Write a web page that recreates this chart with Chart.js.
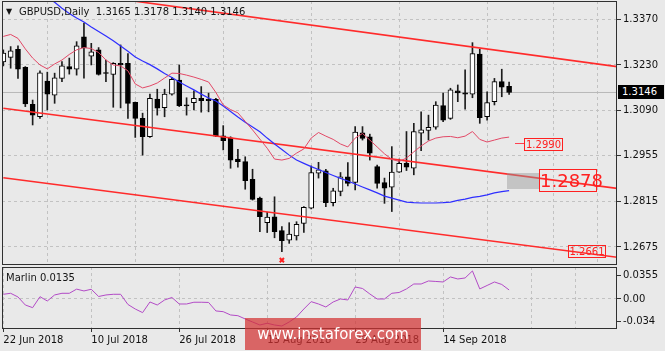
<!DOCTYPE html>
<html>
<head>
<meta charset="utf-8">
<script src="https://cdn.jsdelivr.net/npm/chart.js@4"></script>
<style>
  body { margin: 0; width: 665px; height: 351px; overflow: hidden; position: relative; background: #e9e9e9; font-family: "DejaVu Sans", sans-serif; }
  canvas { position: absolute; left: 0; }
  #main { top: 0; }
  #ind { top: 266px; }
  .t { position: absolute; font-size: 10px; line-height: 12px; color: #141414; white-space: pre; }
  .lbl { position: absolute; border: 1px solid #ff2020; color: #ff2020; box-sizing: border-box; text-align: center; white-space: pre; }
</style>
</head>
<body>
<canvas id="main" width="665" height="266"></canvas>
<canvas id="ind" width="665" height="85"></canvas>

<div class="t" style="left:6px;top:6px;font-size:8px">▼</div>
<div class="t" style="left:19px;top:6px">GBPUSD,Daily  1.3165 1.3178 1.3140 1.3146</div>
<div class="t" style="left:6px;top:272px">Marlin 0.0135</div>

<div class="t" style="left:618px;top:85px;width:46px;height:14px;line-height:14px;background:#000;color:#fff;padding-left:4px;box-sizing:border-box">1.3146</div>

<div style="position:absolute;left:515px;top:143px;width:9px;height:1px;background:#ff4050"></div>
<div class="lbl" style="left:524px;top:138px;width:39px;height:13px;font-size:10px;line-height:11px">1.2990</div>
<div style="position:absolute;left:507px;top:173px;width:32px;height:16px;background:rgba(150,150,150,0.45)"></div>
<div class="lbl" style="left:539px;top:169px;width:58px;height:23px;font-size:18px;line-height:21px">1.2878</div>
<div class="lbl" style="left:568px;top:245px;width:38px;height:13px;font-size:10px;line-height:11px">1.2661</div>

<div style="position:absolute;left:245px;top:318px;width:176px;height:32px;background:rgba(210,50,50,0.72);color:#fff;font-size:15px;line-height:32px;text-align:center">www.instaforex.com</div>

<script>
// price scale and grid
const priceTicks = [1.2675, 1.2815, 1.2955, 1.3090, 1.3230, 1.3370];
const marlinTicks = [-0.034, 0, 0.0355];
const gridIdx = [0, 12, 24, 36, 48, 60, 72, 78];
const dateIdx = [0, 12, 24, 36, 48, 60];
const dates = ['22 Jun 2018', '10 Jul 2018', '26 Jul 2018', '13 Aug 2018', '29 Aug 2018', '14 Sep 2018'];

// daily candles, 22 Jun .. 27 Sep 2018
const open = [1.3239,1.3253,1.3278,1.3223,1.3110,1.3072,1.3181,1.3138,1.3189,1.3225,
  1.3217,1.3316,1.3257,1.3276,1.3207,1.3201,1.3235,1.3235,1.3116,1.3067,
  1.3011,1.3126,1.3100,1.3141,1.3184,1.3108,1.3115,1.3128,1.3126,1.3125,
  1.3014,1.3008,1.2943,1.2935,1.2881,1.2824,1.2749,1.2767,1.2725,1.2696,
  1.2709,1.2747,1.2793,1.2900,1.2907,1.2810,1.2844,1.2889,1.2872,1.3023,
  1.3011,1.2920,1.2871,1.2857,1.2903,1.2930,1.2915,1.3022,1.3030,1.3040,
  1.3106,1.3067,1.3151,1.3145,1.3141,1.3263,1.3072,1.3118,1.3179,1.3165];
const high = [1.3276,1.3286,1.3288,1.3225,1.3123,1.3212,1.3208,1.3205,1.3240,1.3251,
  1.3301,1.3358,1.3296,1.3283,1.3245,1.3237,1.3291,1.3265,1.3117,1.3083,
  1.3141,1.3156,1.3156,1.3192,1.3230,1.3130,1.3151,1.3164,1.3144,1.3128,
  1.3045,1.3011,1.2973,1.2950,1.2912,1.2827,1.2781,1.2828,1.2737,1.2749,
  1.2752,1.2798,1.2922,1.2933,1.2912,1.2854,1.2902,1.2932,1.3042,1.3042,
  1.3019,1.2925,1.2885,1.2981,1.2943,1.3027,1.3052,1.3087,1.3077,1.3118,
  1.3144,1.3159,1.3169,1.3215,1.3298,1.3278,1.3148,1.3189,1.3217,1.3178];
const low = [1.3227,1.3220,1.3189,1.3103,1.3047,1.3067,1.3093,1.3113,1.3179,1.3202,
  1.3199,1.3190,1.3230,1.3199,1.3179,1.3101,1.3099,1.3067,1.3009,1.2955,
  1.3009,1.3077,1.3072,1.3138,1.3103,1.3077,1.3093,1.3086,1.3087,1.3011,
  1.2971,1.2915,1.2918,1.2851,1.2818,1.2722,1.2719,1.2703,1.2661,1.2686,
  1.2696,1.2719,1.2791,1.2885,1.2798,1.2800,1.2831,1.2861,1.2849,1.3001,
  1.2940,1.2854,1.2808,1.2783,1.2902,1.2908,1.2895,1.2969,1.3001,1.3034,
  1.3057,1.3064,1.3118,1.3095,1.3130,1.3052,1.3062,1.3108,1.3133,1.3140];
const close = [1.3266,1.3273,1.3217,1.3111,1.3077,1.3206,1.3141,1.3191,1.3227,1.3217,
  1.3288,1.3282,1.3270,1.3201,1.3204,1.3235,1.3230,1.3113,1.3067,1.3011,
  1.3128,1.3098,1.3141,1.3186,1.3106,1.3105,1.3128,1.3121,1.3121,1.3013,
  1.2999,1.2940,1.2935,1.2877,1.2820,1.2767,1.2766,1.2722,1.2694,1.2714,
  1.2744,1.2796,1.2902,1.2910,1.2810,1.2846,1.2889,1.2869,1.3025,1.3006,
  1.2961,1.2869,1.2854,1.2903,1.2930,1.2918,1.3027,1.3032,1.3040,1.3108,
  1.3062,1.3154,1.3145,1.3141,1.3265,1.3069,1.3115,1.3179,1.3162,1.3146];

// moving averages
const fastMa = [1.3317,1.3323,1.3311,1.3279,1.3251,1.3230,1.3218,1.3233,1.3245,1.3262,
  1.3276,1.3283,1.3280,1.3268,1.3245,1.3230,1.3227,1.3212,1.3172,1.3160,
  1.3166,1.3175,1.3190,1.3205,1.3204,1.3199,1.3193,1.3186,1.3178,1.3146,
  1.3108,1.3094,1.3084,1.3058,1.3032,1.3004,1.2976,1.2943,1.2940,1.2945,
  1.2961,1.2974,1.3007,1.3024,1.3013,1.3003,1.2989,1.2980,1.3007,1.3021,
  1.3001,1.2980,1.2959,1.2942,1.2936,1.2946,1.2965,1.2983,1.2998,1.3007,
  1.3011,1.3012,1.3008,1.3013,1.3027,1.3003,1.2995,1.3001,1.3007,1.3010];
const slowMa = [null,null,null,null,null,null,1.3437,1.3421,1.3403,1.3387,
  1.3373,1.3361,1.3346,1.3332,1.3318,1.3304,1.3288,1.3272,1.3254,1.3242,
  1.3231,1.3218,1.3204,1.3192,1.3178,1.3166,1.3154,1.3141,1.3129,1.3120,
  1.3105,1.3088,1.3071,1.3055,1.3041,1.3026,1.3007,1.2989,1.2972,1.2955,
  1.2940,1.2930,1.2920,1.2911,1.2902,1.2893,1.2884,1.2876,1.2867,1.2858,
  1.2849,1.2840,1.2830,1.2824,1.2818,1.2812,1.2810,1.2809,1.2809,1.2809,
  1.2810,1.2812,1.2817,1.2821,1.2826,1.2829,1.2834,1.2840,1.2844,1.2847];

// channel lines (values at bar 0 and bar 84)
const channelIdx = [0, 84];
const upperChannel = [1.3479, 1.3224];
const midChannel = [1.3098, 1.2853];
const lowerChannel = [1.2886, 1.2643];
const bidIdx = [-1, 85];
const bidPrice = [1.3146, 1.3146];
const markIdx = [38];
const markPrice = [1.2635];

const marlin = [0.0070,0.0085,0.0030,-0.0090,-0.0130,0.0034,-0.0030,0.0060,0.0085,0.0085,
  0.0147,0.0120,0.0145,0.0037,0.0060,0.0070,0.0070,-0.0082,-0.0150,-0.0204,
  -0.0045,-0.0090,-0.0015,0.0022,-0.0075,-0.0075,-0.0049,-0.0049,-0.0052,-0.0179,
  -0.0190,-0.0239,-0.0250,-0.0299,-0.0344,-0.0389,-0.0363,-0.0389,-0.0404,-0.0344,
  -0.0269,-0.0150,-0.0040,-0.0075,-0.0120,-0.0045,0.0000,-0.0015,0.0179,0.0157,
  0.0075,0.0000,0.0000,0.0085,0.0097,0.0150,0.0224,0.0224,0.0269,0.0262,
  0.0254,0.0329,0.0299,0.0314,0.0419,0.0150,0.0202,0.0254,0.0217,0.0135];

const xMin = -0.18, xMax = 83.72;

Chart.defaults.font.family = 'DejaVu Sans';
Chart.defaults.font.size = 10;
Chart.defaults.color = '#111';

const framePlugin = {
  id: 'frame',
  afterDraw(chart) {
    const { ctx, chartArea: a } = chart;
    ctx.save();
    ctx.strokeStyle = '#303030';
    ctx.lineWidth = 1;
    ctx.strokeRect(a.left + 0.5, a.top + 0.5, a.right - a.left - 1, a.bottom - a.top - 1);
    ctx.restore();
  }
};

// right axis: fixed width, no extra space for the end labels
const fitRight = s => { s.width = 48; s.paddingTop = 0; s.paddingBottom = 0; };

const idx = close.map((_, i) => i);
const pts = (xs, ys) => xs.map((x, i) => ({ x: x, y: ys[i] }));

const lineBase = { type: 'line', pointRadius: 0, tension: 0, fill: false };

new Chart(document.getElementById('main'), {
  type: 'bar',
  data: {
    datasets: [
      { ...lineBase, data: pts(bidIdx, bidPrice), borderColor: '#b8b8b8', borderWidth: 1, order: 6 },
      {
        type: 'bar', data: idx.map(i => ({ x: i, y: [low[i], high[i]] })),
        backgroundColor: '#1c1c1c', barThickness: 1, grouped: false, order: 5
      },
      {
        type: 'bar', data: idx.map(i => ({ x: i, y: [open[i], close[i]] })),
        backgroundColor: idx.map(i => close[i] >= open[i] ? '#ffffff' : '#000000'),
        borderColor: '#000000', borderWidth: 1, borderSkipped: false,
        barThickness: 5, minBarLength: 1, grouped: false, order: 4
      },
      { ...lineBase, data: pts(channelIdx, upperChannel), borderColor: '#ff2b2b', borderWidth: 1.6, order: 3 },
      { ...lineBase, data: pts(channelIdx, midChannel), borderColor: '#ff2b2b', borderWidth: 1.6, order: 3 },
      { ...lineBase, data: pts(channelIdx, lowerChannel), borderColor: '#ff2b2b', borderWidth: 1.6, order: 3 },
      { ...lineBase, data: pts(idx, slowMa), borderColor: '#2e2eff', borderWidth: 1.2, order: 2 },
      { ...lineBase, data: pts(idx, fastMa), borderColor: '#e24866', borderWidth: 1, order: 1 },
      {
        ...lineBase, data: pts(markIdx, markPrice), showLine: false,
        pointStyle: 'crossRot', pointRadius: 3, pointBorderWidth: 2, pointBorderColor: '#ff2020', order: 0
      }
    ]
  },
  options: {
    responsive: false, animation: false, devicePixelRatio: 1,
    layout: { padding: { left: 2, top: 1, right: 0, bottom: 0 }, autoPadding: false },
    plugins: { legend: { display: false }, tooltip: { enabled: false } },
    scales: {
      x: {
        type: 'linear', min: xMin, max: xMax, offset: false,
        afterBuildTicks: s => { s.ticks = gridIdx.map(v => ({ value: v })); },
        afterFit: s => { s.height = 1; s.paddingLeft = 0; s.paddingRight = 0; },
        ticks: { display: false },
        grid: { color: '#c2c2c2', drawTicks: false },
        border: { display: false, dash: [3, 3] }
      },
      y: {
        position: 'right', min: 1.2620, max: 1.3425,
        afterBuildTicks: s => { s.ticks = priceTicks.map(v => ({ value: v })); },
        afterFit: fitRight,
        ticks: { callback: v => v.toFixed(4), padding: 2, color: '#111' },
        grid: { color: '#c2c2c2', tickLength: 4, tickColor: '#333', tickBorderDash: [] },
        border: { display: false, dash: [3, 3] }
      }
    }
  },
  plugins: [framePlugin]
});

new Chart(document.getElementById('ind'), {
  type: 'line',
  data: {
    datasets: [
      { data: pts(idx, marlin), borderColor: '#b24ac6', borderWidth: 1, pointRadius: 0, tension: 0, fill: false }
    ]
  },
  options: {
    responsive: false, animation: false, devicePixelRatio: 1,
    layout: { padding: { left: 2, top: 1, right: 0, bottom: 0 }, autoPadding: false },
    plugins: { legend: { display: false }, tooltip: { enabled: false } },
    scales: {
      x: {
        type: 'linear', min: xMin, max: xMax,
        afterBuildTicks: s => { s.ticks = gridIdx.map(v => ({ value: v })); },
        afterFit: s => { s.height = 22; s.paddingLeft = 0; s.paddingRight = 0; },
        ticks: {
          autoSkip: false, maxRotation: 0, align: 'start', padding: 2, color: '#111',
          callback: v => { const k = dateIdx.indexOf(v); return k >= 0 ? dates[k] : ''; }
        },
        grid: {
          color: '#c2c2c2', tickLength: 3, tickBorderDash: [],
          tickColor: c => dateIdx.includes(c.tick && c.tick.value) ? '#333' : 'rgba(0,0,0,0)'
        },
        border: { display: false, dash: [3, 3] }
      },
      y: {
        position: 'right', min: -0.0449, max: 0.0478,
        afterBuildTicks: s => { s.ticks = marlinTicks.map(v => ({ value: v })); },
        afterFit: fitRight,
        ticks: { callback: v => v === 0 ? '0.00' : String(v), padding: 2, color: '#111' },
        grid: {
          color: c => c.tick && c.tick.value === 0 ? '#c2c2c2' : 'rgba(0,0,0,0)',
          tickLength: 4, tickColor: '#333', tickBorderDash: []
        },
        border: { display: false, dash: [3, 3] }
      }
    }
  },
  plugins: [framePlugin]
});
</script>
</body>
</html>
